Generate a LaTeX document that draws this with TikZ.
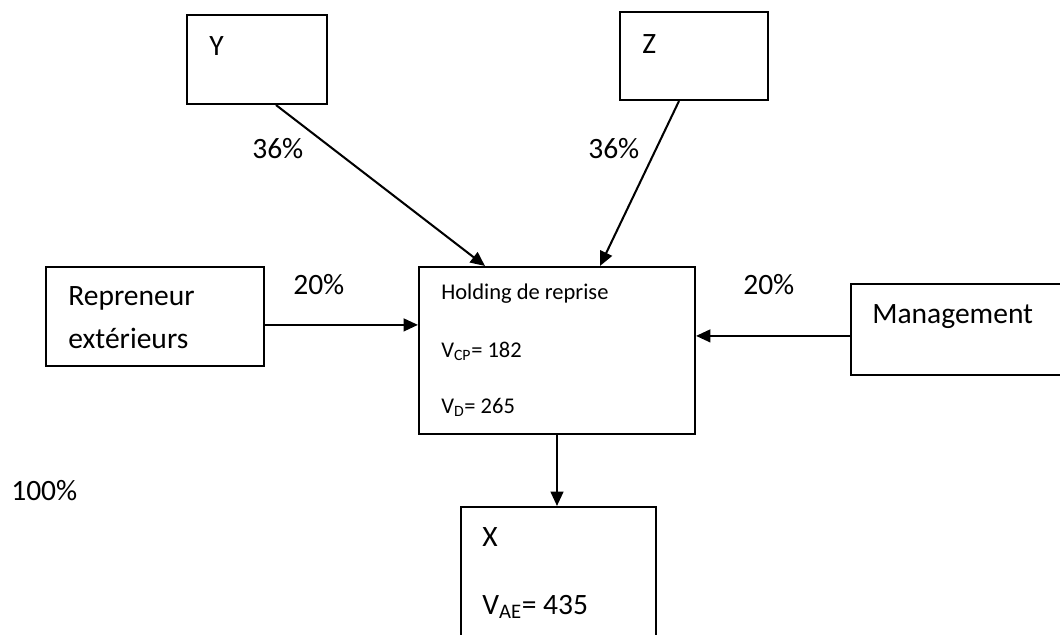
\documentclass[tikz,border=0pt]{standalone}
\usepackage{fontspec}
\setmainfont{Carlito}
\usepackage{tikz}
\usetikzlibrary{arrows.meta,positioning}

\begin{document}
\begin{tikzpicture}[
  x=0.025cm, y=-0.025cm,
  box/.style={draw, line width=1.45pt, rectangle, inner sep=0pt},
  big/.style={anchor=base west, inner sep=0pt, font=\fontsize{21}{25}\selectfont},
  small/.style={anchor=base west, inner sep=0pt, font=\fontsize{16}{19}\selectfont},
  arr/.style={line width=1.45pt, -{Triangle[length=0.36cm, width=0.32cm]}}
]
\useasboundingbox (0,0) rectangle (1060,634);

\node[box, minimum width=3.5cm, minimum height=2.225cm] (boxY) at (257,59.5) {};
\node[box, minimum width=3.7cm, minimum height=2.2cm] (boxZ) at (694,56) {};
\node[box, minimum width=6.9cm, minimum height=4.175cm] (hold) at (557,350.5) {};
\node[box, minimum width=5.45cm, minimum height=2.475cm] (rep) at (155,316.5) {};
\node[box, minimum width=5.725cm, minimum height=2.275cm] (mgmt) at (965.5,329.5) {};
\node[box, minimum width=4.875cm, minimum height=3.825cm] (boxX) at (558.5,583.5) {};

\node[big] (tY) at (209,55) {Y};
\node[big] (tZ) at (642,53) {Z};
\node[small] (tHold) at (441,299) {Holding de reprise};
\node[small] (tVcp) at (441,357) {V\textsubscript{CP}= 182};
\node[small] (tVd) at (441,413) {V\textsubscript{D}= 265};
\node[big] (tRep1) at (68,305) {Repreneur};
\node[big] (tRep2) at (68,348) {extérieurs};
\node[big] (tMgmt) at (872,323) {Management};
\node[big] (tX) at (482,546) {X};
\node[big] (tVae) at (482,614) {V\textsubscript{AE}= 435};

\node[big] (pY) at (252,158) {36\%};
\node[big] (pZ) at (588,158) {36\%};
\node[big] (pRep) at (293,294) {20\%};
\node[big] (pMgmt) at (743,294) {20\%};
\node[big] (pX) at (11,500) {100\%};

\coordinate (repout) at ([yshift=-0.21cm]rep.east);
\coordinate (mgout) at ([yshift=-0.16cm]mgmt.west);

\draw[arr] ([xshift=0.475cm]boxY.south) -- ([xshift=-1.8cm]hold.north);
\draw[arr] ([xshift=-0.375cm]boxZ.south) -- ([xshift=1.075cm]hold.north);
\draw[arr] (repout) -- (repout -| hold.west);
\draw[arr] (mgout) -- (mgout -| hold.east);
\draw[arr] (hold.south) -- (hold.south |- boxX.north);
\end{tikzpicture}
\end{document}
